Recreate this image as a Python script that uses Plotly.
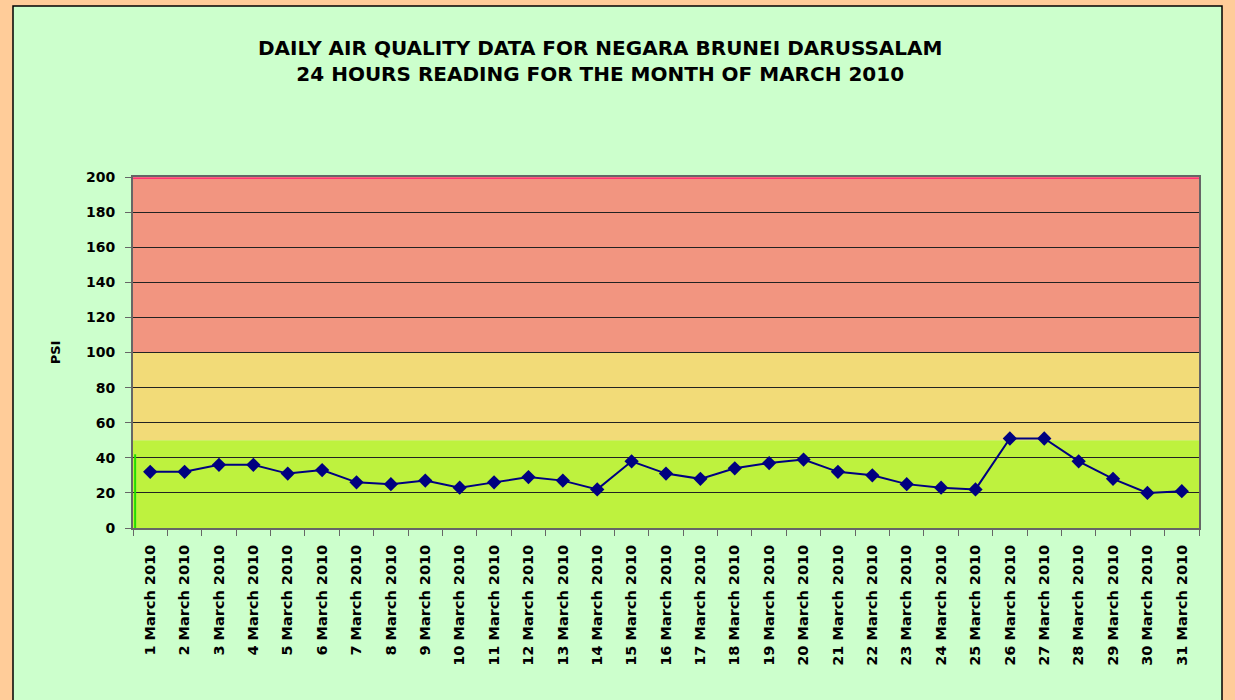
import plotly.graph_objects as go

days = [f"{d} March 2010" for d in range(1, 32)]
psi = [32, 32, 36, 36, 31, 33, 26, 25, 27, 23, 26, 29, 27, 22, 38, 31, 28, 34, 37, 39,
       32, 30, 25, 23, 22, 51, 51, 38, 28, 20, 21]
bands = [(0, 50, "#BEF23E"), (50, 100, "#F2DB78"), (100, 200, "#F29580")]
y_ticks = list(range(0, 201, 20))

W, H = 1235, 700
L, R, T, B = 133, 36, 177, 172
pw, ph = W - L - R, H - T - B

def px(x):
    return (x - L) / pw

def py(y):
    return (H - B - y) / ph

fig = go.Figure()
fig.add_trace(go.Scatter(
    x=days, y=psi, mode="lines+markers",
    line=dict(color="#000080", width=2),
    marker=dict(symbol="diamond", size=11, color="#000080"),
    showlegend=False,
))

shapes = [dict(type="rect", xref="paper", yref="paper",
               x0=px(13), x1=px(1222), y0=py(715), y1=py(6),
               fillcolor="#CCFFCC", line=dict(color="black", width=1.5), layer="below")]
for lo, hi, c in bands:
    shapes.append(dict(type="rect", xref="paper", yref="y", x0=0, x1=1, y0=lo, y1=hi,
                       fillcolor=c, line=dict(width=0), layer="below"))
shapes.append(dict(type="line", xref="paper", yref="y", x0=0, x1=1, y0=199.3, y1=199.3,
                   line=dict(color="#FF3377", width=1.5)))
shapes.append(dict(type="line", xref="paper", yref="y", x0=0.002, x1=0.002, y0=0, y1=42,
                   line=dict(color="#22DD00", width=2)))

font_family = "DejaVu Sans"
fig.update_layout(
    width=W, height=H,
    margin=dict(l=L, r=R, t=T, b=B),
    paper_bgcolor="#FFCC99",
    plot_bgcolor="rgba(0,0,0,0)",
    shapes=shapes,
    title=dict(
        text="DAILY AIR QUALITY DATA FOR NEGARA BRUNEI DARUSSALAM<br>24 HOURS READING FOR THE MONTH OF MARCH 2010",
        x=0.486, xanchor="center", y=0.922, yanchor="middle",
        font=dict(family=font_family, size=20, color="black", weight="bold"),
    ),
    xaxis=dict(
        type="category", tickangle=-90, showgrid=False,
        tickfont=dict(family=font_family, size=14.5, color="black", weight="bold"),
        showline=True, linecolor="#666666", linewidth=2, mirror=True,
        range=[-0.5, 30.5],
        ticks="outside", ticklen=6, tickcolor="#666666", tickson="boundaries",
        ticklabelstandoff=9,
    ),
    yaxis=dict(
        range=[0, 200], tickvals=y_ticks,
        tickfont=dict(family=font_family, size=14, color="black", weight="bold"),
        showgrid=True, gridcolor="#222222", gridwidth=1,
        showline=True, linecolor="#666666", linewidth=2, mirror=True,
        ticks="outside", ticklen=6, tickcolor="#666666",
        ticklabelstandoff=7,
        title=dict(text="PSI", font=dict(family=font_family, size=13, color="black", weight="bold"),
                   standoff=22),
        zeroline=False,
    ),
)

fig.write_html("out.html", config={"displayModeBar": False},
               post_script="document.body.style.margin='0';")
